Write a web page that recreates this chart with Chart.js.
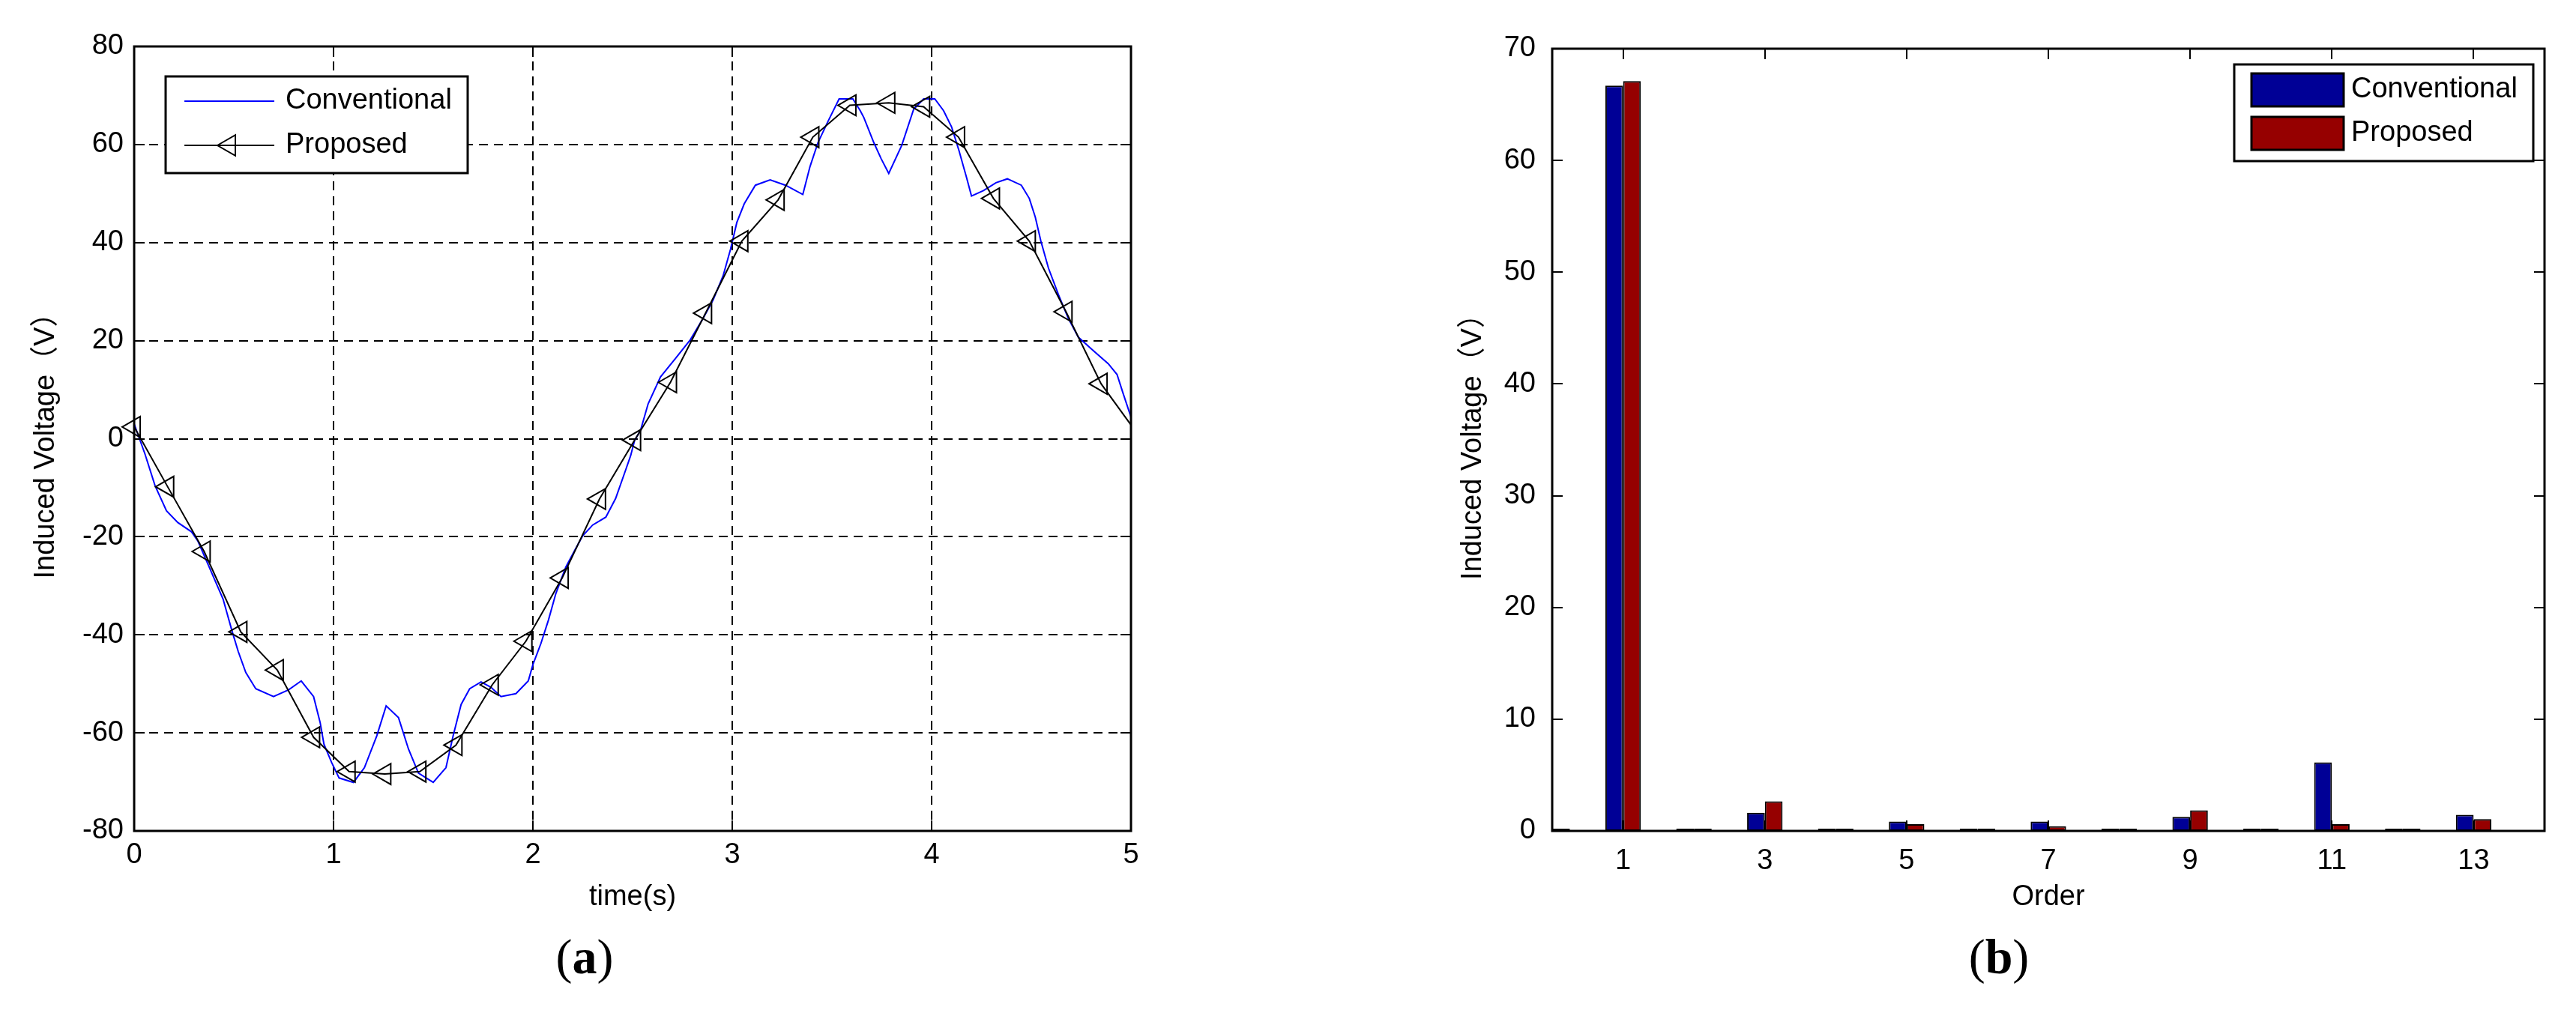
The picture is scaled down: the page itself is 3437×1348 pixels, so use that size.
<!DOCTYPE html>
<html>
<head>
<meta charset="utf-8">
<script src="https://cdn.jsdelivr.net/npm/chart.js@4.4.1/dist/chart.umd.min.js"></script>
<style>
  body { margin: 0; background: #fff; width: 3437px; height: 1348px; position: relative; overflow: hidden; }
  canvas { position: absolute; top: 0; }
  #chartA { left: 0; }
  #chartB { left: 1900px; }
  .cap { position: absolute; top: 1244px; font-family: "Liberation Serif", "DejaVu Serif", serif; font-size: 66px; line-height: 66px; transform: translateX(-50%); color: #000; }
</style>
</head>
<body>
<canvas id="chartA" width="1540" height="1250"></canvas>
<canvas id="chartB" width="1537" height="1250"></canvas>
<div class="cap" style="left:780px">(<b>a</b>)</div>
<div class="cap" style="left:2667px">(<b>b</b>)</div>
<script>
// (a) induced voltage waveform
const convTime = [0, 0.054, 0.105, 0.162, 0.219, 0.288, 0.32, 0.383, 0.446, 0.49, 0.522, 0.56, 0.61, 0.699, 0.775, 0.838, 0.9, 0.933, 0.952, 0.99,
  1.028, 1.1, 1.155, 1.217, 1.264, 1.326, 1.376, 1.426, 1.5, 1.564, 1.6, 1.64, 1.683, 1.74, 1.79, 1.84, 1.915, 1.977, 2.0, 2.04,
  2.078, 2.115, 2.165, 2.215, 2.25, 2.3, 2.366, 2.415, 2.466, 2.49, 2.51, 2.54, 2.578, 2.64, 2.716, 2.79, 2.853, 2.904, 2.954, 2.991,
  3.023, 3.06, 3.116, 3.19, 3.267, 3.354, 3.39, 3.43, 3.48, 3.536, 3.605, 3.642, 3.66, 3.71, 3.747, 3.785, 3.85, 3.91, 3.96, 4.016,
  4.06, 4.1, 4.137, 4.175, 4.2, 4.26, 4.323, 4.38, 4.45, 4.49, 4.52, 4.548, 4.586, 4.636, 4.686, 4.736, 4.81, 4.886, 4.93, 4.96, 5.0];
const convVolt = [3, -3.1, -9.6, -14.7, -17.1, -19.0, -20.9, -26.8, -32.7, -39.1, -43.4, -47.7, -51, -52.6, -51.2, -49.4, -52.6, -57.9, -62.3, -66,
  -69.2, -70.1, -67.1, -60.6, -54.5, -56.9, -63.3, -68.2, -70.1, -67.1, -60.6, -54.2, -51, -49.6, -50.7, -52.6, -52, -49.4, -46.1, -41.8,
  -37, -31.6, -26.2, -22.4, -19.8, -17.6, -16, -12.2, -6.3, -3.5, -0.4, 1.7, 7.1, 12.6, 16.4, 20.2, 24.5, 28.3, 33.2, 38.6,
  44.1, 47.9, 51.7, 52.8, 51.7, 49.8, 55.5, 60.4, 64.7, 69.3, 69.3, 66.9, 65.5, 60.4, 57.1, 54.1, 59.8, 67.2, 69.3, 69.3,
  66.9, 63.6, 58.8, 53.3, 49.5, 50.6, 52.2, 53, 51.7, 49, 45.2, 40.3, 34.8, 29.4, 24.5, 20.7, 18, 15.3, 13.1, 9.3, 4.4];
const propTime = [0, 0.168, 0.351, 0.535, 0.718, 0.9, 1.078, 1.257, 1.433, 1.614, 1.796, 1.965, 2.147, 2.334, 2.51,
  2.69, 2.866, 3.048, 3.23, 3.404, 3.59, 3.785, 3.96, 4.135, 4.31, 4.49, 4.674, 4.85, 5.0];
const propVolt = [2.4, -9.8, -23.0, -39.4, -47.2, -60.9, -67.9, -68.4, -67.9, -62.5, -50.2, -41.3, -28.4, -12.3, -0.3,
  11.5, 25.6, 40.3, 48.7, 61.5, 68.0, 68.5, 67.7, 61.5, 49.0, 40.3, 25.9, 11.2, 2.8];

// (b) harmonic spectrum
const orders = [0, 1, 2, 3, 4, 5, 6, 7, 8, 9, 10, 11, 12, 13];
const convHarm = [0.2, 66.7, 0.2, 1.63, 0.2, 0.83, 0.2, 0.83, 0.2, 1.25, 0.2, 6.13, 0.2, 1.44];
const propHarm = [0.2, 67.1, 0.2, 2.65, 0.2, 0.6, 0.2, 0.42, 0.2, 1.85, 0.2, 0.6, 0.2, 1.05];
const orderTicks = [1, 3, 5, 7, 9, 11, 13];

const seriesNames = ['Conventional', 'Proposed'];
const yTitle = 'Induced Voltage（V）';
const tickFont = { family: '"Liberation Sans", Arial, sans-serif', size: 38 };
const titleFont = { family: '"Liberation Sans", "Noto Sans CJK SC", sans-serif', size: 38 };

// frame, inward tick marks and legend inside the plot (MATLAB style)
const framePlugin = {
  id: 'frame',
  afterDraw(chart, args, opts) {
    const { ctx, chartArea: a, scales } = chart;
    const len = 14;
    ctx.save();
    ctx.strokeStyle = '#000';
    ctx.lineWidth = 2;
    ctx.setLineDash([]);
    ctx.beginPath();
    scales.x.ticks.forEach(t => {
      const px = Math.round(scales.x.getPixelForValue(t.value));
      ctx.moveTo(px, a.bottom); ctx.lineTo(px, a.bottom - len);
      ctx.moveTo(px, a.top); ctx.lineTo(px, a.top + len);
    });
    scales.y.ticks.forEach(t => {
      const py = Math.round(scales.y.getPixelForValue(t.value));
      ctx.moveTo(a.left, py); ctx.lineTo(a.left + len, py);
      ctx.moveTo(a.right, py); ctx.lineTo(a.right - len, py);
    });
    ctx.stroke();
    ctx.lineWidth = 3;
    ctx.strokeRect(a.left, a.top, a.right - a.left, a.bottom - a.top);

    // legend box
    const lg = opts.legend;
    const bx = lg.fromRight ? a.right - lg.dx : a.left + lg.dx;
    const by = a.top + lg.dy;
    ctx.fillStyle = '#fff';
    ctx.fillRect(bx, by, lg.w, lg.h);
    ctx.lineWidth = 3;
    ctx.strokeRect(bx, by, lg.w, lg.h);
    ctx.font = '38px "Liberation Sans", Arial, sans-serif';
    ctx.textBaseline = 'middle';
    chart.data.datasets.forEach((ds, i) => {
      const ry = by + lg.rows[i];
      if (lg.kind === 'line') {
        ctx.strokeStyle = ds.borderColor;
        ctx.lineWidth = 2;
        ctx.beginPath();
        ctx.moveTo(bx + 25, ry); ctx.lineTo(bx + 145, ry);
        ctx.stroke();
        if (ds.pointStyle) {
          ctx.fillStyle = 'rgba(0,0,0,0)';
          Chart.helpers.drawPoint(ctx, { pointStyle: ds.pointStyle, rotation: ds.pointRotation, radius: 16, borderWidth: 2 }, bx + 85, ry);
        }
      } else {
        ctx.fillStyle = ds.backgroundColor;
        ctx.fillRect(bx + 23, ry - 22, 123, 44);
        ctx.strokeStyle = '#000';
        ctx.lineWidth = 3;
        ctx.strokeRect(bx + 23, ry - 22, 123, 44);
      }
      ctx.fillStyle = '#000';
      ctx.fillText(ds.label, bx + lg.textX, ry);
    });
    ctx.restore();
  }
};

new Chart(document.getElementById('chartA'), {
  type: 'line',
  data: {
    datasets: [{
      label: seriesNames[0],
      data: convTime.map((t, i) => ({ x: t, y: convVolt[i] })),
      borderColor: '#0000ff',
      borderWidth: 2,
      pointRadius: 0,
      tension: 0,
      order: 1
    }, {
      label: seriesNames[1],
      data: propTime.map((t, i) => ({ x: t, y: propVolt[i] })),
      borderColor: '#000',
      borderWidth: 2,
      pointStyle: 'triangle',
      pointRotation: -90,
      pointRadius: propTime.map((t, i) => i === propTime.length - 1 ? 0 : 16),
      pointBorderColor: '#000',
      pointBackgroundColor: 'rgba(0,0,0,0)',
      pointBorderWidth: 2,
      tension: 0,
      clip: false,
      order: 0
    }]
  },
  options: {
    responsive: false,
    animation: false,
    events: [],
    devicePixelRatio: 1,
    layout: { padding: { top: 62, right: 31, left: 0, bottom: 0 } },
    plugins: {
      legend: { display: false },
      tooltip: { enabled: false },
      frame: { legend: { kind: 'line', dx: 42, dy: 40, w: 403, h: 129, rows: [33, 92], textX: 160 } }
    },
    scales: {
      x: {
        type: 'linear', min: 0, max: 5,
        ticks: { stepSize: 1, color: '#000', font: tickFont, padding: 10, maxRotation: 0 },
        grid: { color: '#000', lineWidth: 2, drawTicks: false },
        border: { display: false, dash: [12, 8] },
        title: { display: true, text: 'time(s)', color: '#000', font: tickFont, padding: { top: 0, bottom: 30 } },
        afterFit: s => { s.height = 141; }
      },
      y: {
        min: -80, max: 80,
        ticks: { stepSize: 20, color: '#000', font: tickFont, padding: 14 },
        grid: { color: '#000', lineWidth: 2, drawTicks: false },
        border: { display: false, dash: [12, 8] },
        title: { display: true, text: yTitle, color: '#000', font: titleFont, padding: { top: 39, bottom: 0 } },
        afterFit: s => { s.width = 179; }
      }
    }
  },
  plugins: [framePlugin]
});

new Chart(document.getElementById('chartB'), {
  type: 'bar',
  data: {
    datasets: [{
      label: seriesNames[0],
      data: orders.map((o, i) => ({ x: o, y: convHarm[i] })),
      backgroundColor: '#000096',
      borderColor: '#000',
      borderWidth: 2,
      borderSkipped: false
    }, {
      label: seriesNames[1],
      data: orders.map((o, i) => ({ x: o, y: propHarm[i] })),
      backgroundColor: '#960000',
      borderColor: '#000',
      borderWidth: 2,
      borderSkipped: false
    }]
  },
  options: {
    responsive: false,
    animation: false,
    events: [],
    devicePixelRatio: 1,
    categoryPercentage: 0.5,
    barPercentage: 1,
    layout: { padding: { top: 65, right: 42, left: 0, bottom: 0 } },
    plugins: {
      legend: { display: false },
      tooltip: { enabled: false },
      frame: { legend: { kind: 'box', fromRight: true, dx: 414, dy: 21, w: 399, h: 129, rows: [34, 92], textX: 156 } }
    },
    scales: {
      x: {
        type: 'linear', min: 0, max: 14, offset: false,
        afterBuildTicks: axis => { axis.ticks = orderTicks.map(v => ({ value: v })); },
        ticks: { color: '#000', font: tickFont, padding: 10, maxRotation: 0 },
        grid: { display: false },
        border: { display: false },
        title: { display: true, text: 'Order', color: '#000', font: tickFont, padding: { top: 0, bottom: 30 } },
        afterFit: s => { s.height = 141; }
      },
      y: {
        min: 0, max: 70,
        ticks: { stepSize: 10, color: '#000', font: tickFont, padding: 14 },
        grid: { display: false },
        border: { display: false },
        title: { display: true, text: yTitle, color: '#000', font: titleFont, padding: { top: 43, bottom: 0 } },
        afterFit: s => { s.width = 171; }
      }
    }
  },
  plugins: [framePlugin]
});
</script>
</body>
</html>
